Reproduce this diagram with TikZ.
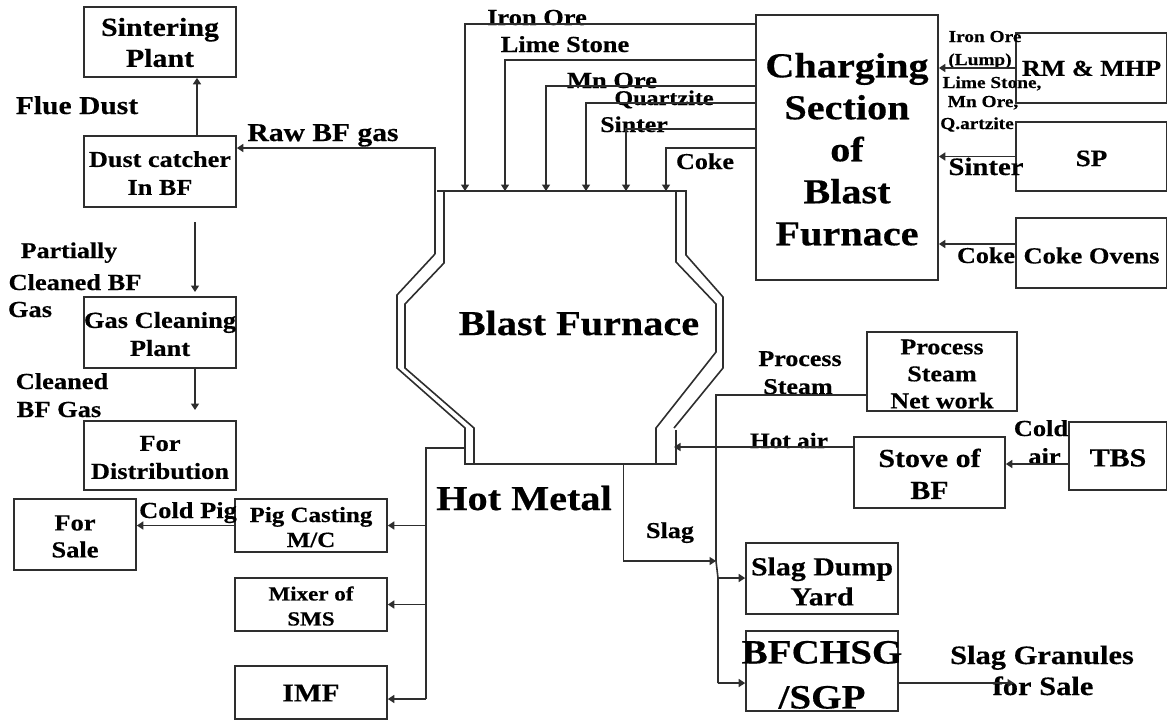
\documentclass[tikz,border=0pt]{standalone}
\usepackage{fontspec}
\setmainfont{Liberation Serif}[FakeStretch=1.15,BoldFeatures={FakeBold=0.4}]
\usetikzlibrary{arrows.meta}
\definecolor{ink}{HTML}{2E2E2E}
\newcommand{\dn}[1]{\rule{0pt}{\dimexpr\fontcharht\font`l+#1pt\relax}}
\tikzset{
  sz/.style 2 args={font=\fontsize{#1}{#2}\selectfont\bfseries},
  box/.style={draw=ink,line width=1.6pt,inner sep=0pt,align=center,text=black},
  lbl/.style={inner sep=0pt,anchor=base,align=center,text=black},
  wire/.style={draw=ink,line width=1.6pt},
  arr/.style={wire,-{Triangle[length=6.5pt,width=8pt]}}
}
\begin{document}
\begin{tikzpicture}[x=1pt,y=-1pt]
\useasboundingbox (0,0) rectangle (1167,721);
\clip (0,0) rectangle (1167,721);
% boxes
\node[box,sz={26}{31},minimum width=152,minimum height=70] (sinter) at (160,42) {\dn{2}Sintering\\Plant};
\node[box,sz={22.8}{28},minimum width=152,minimum height=71] (dust) at (160,171.5) {\dn{4}Dust catcher\\In BF};
\node[box,sz={23}{28},minimum width=152,minimum height=71] (gcp) at (160,332.5) {\dn{4}\makebox[0pt]{Gas Cleaning}\\Plant};
\node[box,sz={23}{28},minimum width=152,minimum height=69] (dist) at (160,455.5) {\dn{4}For\\Distribution};
\node[box,sz={23}{27},minimum width=122,minimum height=71] (sale) at (75,534.5) {\dn{4}For\\Sale};
\node[box,sz={21.7}{25},minimum width=152,minimum height=53] (pig) at (311,525.5) {\dn{4}Pig Casting\\M/C};
\node[box,sz={20}{25},minimum width=152,minimum height=53] (mixer) at (311,604.5) {\dn{4}Mixer of\\SMS};
\node[box,sz={25.5}{28},minimum width=152,minimum height=53] (imf) at (311,692.5) {\dn{1}IMF};
\node[box,sz={35}{42},minimum width=182,minimum height=265] (chg) at (847,147.5) {\dn{5}Charging\\Section\\of\\Blast\\Furnace};
\node[box,sz={22.7}{26},minimum width=151,minimum height=70] (rm) at (1091.5,68) {\dn{1}RM \& MHP};
\node[box,sz={23.5}{26},minimum width=151,minimum height=69] (sp) at (1091.5,156.5) {\dn{4}SP};
\node[box,sz={23}{26},minimum width=151,minimum height=70] (coke) at (1091.5,253) {\dn{6}Coke Ovens};
\node[box,sz={22.6}{27},minimum width=150,minimum height=79] (pse) at (942,371.5) {\dn{5}Process\\Steam\\Net work};
\node[box,sz={26}{32},minimum width=151,minimum height=71] (stove) at (929.5,472.5) {\dn{4}Stove of\\BF};
\node[box,sz={26}{26},minimum width=98,minimum height=68] (tbs) at (1118,456) {\dn{4}TBS};
\node[box,sz={26}{30},minimum width=152,minimum height=71] (dump) at (822,578.5) {\dn{7}Slag Dump\\Yard};
\node[box,sz={34}{45},minimum width=152,minimum height=80] (bf) at (822,671) {\dn{8}\makebox[0pt]{BFCHSG}\\/SGP};
% labels
\node[lbl,sz={23}{23}] (t1) at (537,25) {Iron Ore};
\node[lbl,sz={23}{23}] (t2) at (565,52) {Lime Stone};
\node[lbl,sz={23}{23}] (t3) at (612,88) {Mn Ore};
\node[lbl,sz={21}{21}] (t4) at (664,105) {Quartzite};
\node[lbl,sz={22.5}{22.5}] (t5) at (634,132) {Sinter};
\node[lbl,sz={22.7}{22.7}] (t6) at (705,169) {Coke};
\node[lbl,sz={25.7}{25.7}] (t7) at (323,141) {Raw BF gas};
\node[lbl,sz={25.7}{25.7}] (t8) at (77,114) {Flue Dust};
\node[lbl,sz={22.5}{22.5}] (t9) at (69,258) {Partially};
\node[lbl,sz={23}{23}] (t10) at (75,290) {Cleaned BF};
\node[lbl,sz={23}{23}] (t11) at (30,317) {Gas};
\node[lbl,sz={23}{23}] (t12) at (62,389) {Cleaned};
\node[lbl,sz={23}{23}] (t13) at (59,417) {BF Gas};
\node[lbl,sz={23}{23}] (t14) at (188,518) {Cold Pig};
\node[lbl,sz={35}{35}] (t15) at (524,510) {Hot Metal};
\node[lbl,sz={35}{35}] (t16) at (579,335) {Blast Furnace};
\node[lbl,sz={22.7}{22.7}] (t17) at (670,538) {Slag};
\node[lbl,sz={22.6}{22.6}] (t18) at (800,366) {Process};
\node[lbl,sz={22.6}{22.6}] (t19) at (798,394) {Steam};
\node[lbl,sz={22}{22}] (t20) at (789,448) {Hot air};
\node[lbl,sz={23}{23}] (t21) at (1041,436) {Cold};
\node[lbl,sz={23}{23}] (t22) at (1044.5,464) {air};
\node[lbl,sz={26.5}{26.5}] (t23) at (1042,664) {Slag Granules};
\node[lbl,sz={26.5}{26.5}] (t24) at (1043,695) {for Sale};
\node[lbl,sz={16.8}{16.8}] (t25) at (985,42) {Iron Ore};
\node[lbl,sz={16.8}{16.8}] (t26) at (980,65) {(Lump)};
\node[lbl,sz={16.8}{16.8}] (t27) at (992,88) {Lime Stone,};
\node[lbl,sz={16.8}{16.8}] (t28) at (983,107) {Mn Ore,};
\node[lbl,sz={16.8}{16.8}] (t29) at (977,129) {Q.artzite};
\node[lbl,sz={25}{25}] (t30) at (986,175) {Sinter};
\node[lbl,sz={22.7}{22.7}] (t31) at (986,263) {Coke};
% furnace
\coordinate (f1) at (465,191);
\coordinate (f2) at (505,191);
\coordinate (f3) at (546,191);
\coordinate (f4) at (586,191);
\coordinate (f5) at (626,191);
\coordinate (f6) at (666,191);
\coordinate (gasUp) at (435,254);
\coordinate (tap) at (465,448);
\coordinate (hotIn) at (674,447);
\coordinate (slagOut) at (623.5,464);
\draw[wire] (gasUp) -- (397,295) -- (397,368) -- (465,428) -- (465,464) -- (676,464) -- (676,430);
\draw[wire] (437,191) -- (686,191) -- (686,255) -- (723,297) -- (723,368) -- (674,428);
\draw[wire] (444,191) -- (444,263) -- (405,304) -- (405,368) -- (474,428) -- (474,464);
\draw[wire] (676,191) -- (676,262) -- (716,304) -- (716,352) -- (656,428) -- (656,464);
% connectors
\draw[arr] (chg.west |- 0,24) -| (f1);
\draw[arr] (chg.west |- 0,60) -| (f2);
\draw[arr] (chg.west |- 0,86) -| (f3);
\draw[arr] (chg.west |- 0,103) -| (f4);
\draw[arr] (chg.west |- 0,129) -| (f5);
\draw[arr] (chg.west |- 0,148) -| (f6);
\draw[arr] (rm.west) -- (chg.east |- rm.west);
\draw[arr] (sp.west) -- (chg.east |- sp.west);
\draw[arr] (coke.west |- 0,244) -- (chg.east |- 0,244);
\draw[arr] (gasUp) |- (dust.east |- 0,148);
\draw[arr] (197,0 |- dust.north) -- (197,0 |- sinter.south);
\coordinate (dustOut) at (195,222);
\coordinate (gcpIn) at (195,292);
\coordinate (distIn) at (195,410);
\draw[arr] (dustOut) -- (gcpIn);
\draw[arr] (195,0 |- gcp.south) -- (distIn);
\coordinate (bus) at (426,448);
\coordinate (busEnd) at (426,699);
\draw[wire] (tap) -- (bus) -- (busEnd);
\draw[arr] (bus |- pig.east) -- (pig.east);
\draw[arr] (bus |- mixer.east) -- (mixer.east);
\draw[arr] (busEnd) -- (imf.east |- busEnd);
\draw[arr] (pig.west) -- (sale.east |- pig.west);
\coordinate (steam) at (716,395);
\coordinate (steamA) at (716,561);
\coordinate (steamB) at (718,578);
\coordinate (steamC) at (718,683);
\draw[wire] (pse.west |- steam) -- (steam) -- (steamA) -- (steamB) -- (steamC);
\draw[arr] (slagOut) |- (steamA);
\draw[arr] (steamB) -- (dump.west |- steamB);
\draw[arr] (steamC) -- (bf.west |- steamC);
\draw[arr] (stove.west |- hotIn) -- (hotIn);
\draw[arr] (tbs.west |- 0,464) -- (stove.east |- 0,464);
\coordinate (granEnd) at (1014,683);
\draw[arr] (bf.east |- granEnd) -- (granEnd);
\end{tikzpicture}
\end{document}
